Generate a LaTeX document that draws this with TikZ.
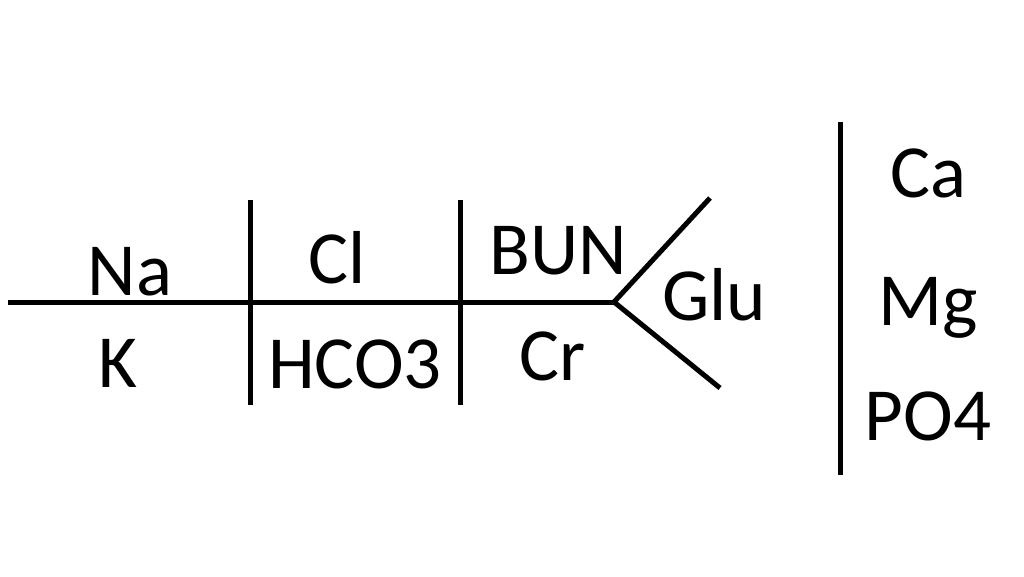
\documentclass[tikz,border=0pt]{standalone}
\usepackage{fontspec}
\setmainfont{Carlito}
\begin{document}
\begin{tikzpicture}[x=1pt,y=-1pt,
  bone/.style={line width=5pt},
  lbl/.style={anchor=base,inner sep=0pt,font=\fontsize{75}{82}\selectfont}]
\useasboundingbox (0,0) rectangle (1024,576);
\coordinate (hl) at (8,302);
\coordinate (hr) at (614,302);
\coordinate (v1t) at (250,200);
\coordinate (v1b) at (250,405);
\coordinate (v2t) at (460,200);
\coordinate (v2b) at (460,405);
\coordinate (ft) at (710,198);
\coordinate (fb) at (720,388);
\coordinate (vrt) at (840,122);
\coordinate (vrb) at (840,475);
\draw[bone] (hl) -- (hr);
\draw[bone] (v1t) -- (v1b);
\draw[bone] (v2t) -- (v2b);
\draw[bone] (ft) -- (hr) -- (fb);
\draw[bone] (vrt) -- (vrb);
\node[lbl] (na) at (130,295) {Na};
\node[lbl] (k) at (118,387) {K};
\node[lbl] (cl) at (337,283) {Cl};
\node[lbl] (hco) at (355,388) {HCO3};
\node[lbl] (bun) at (558,274) {BUN};
\node[lbl] (cr) at (553,380) {Cr};
\node[lbl] (glu) at (714,320) {Glu};
\node[lbl] (ca) at (928,197) {Ca};
\node[lbl] (mg) at (928,325) {Mg};
\node[lbl] (po) at (928,440) {PO4};
\end{tikzpicture}
\end{document}
